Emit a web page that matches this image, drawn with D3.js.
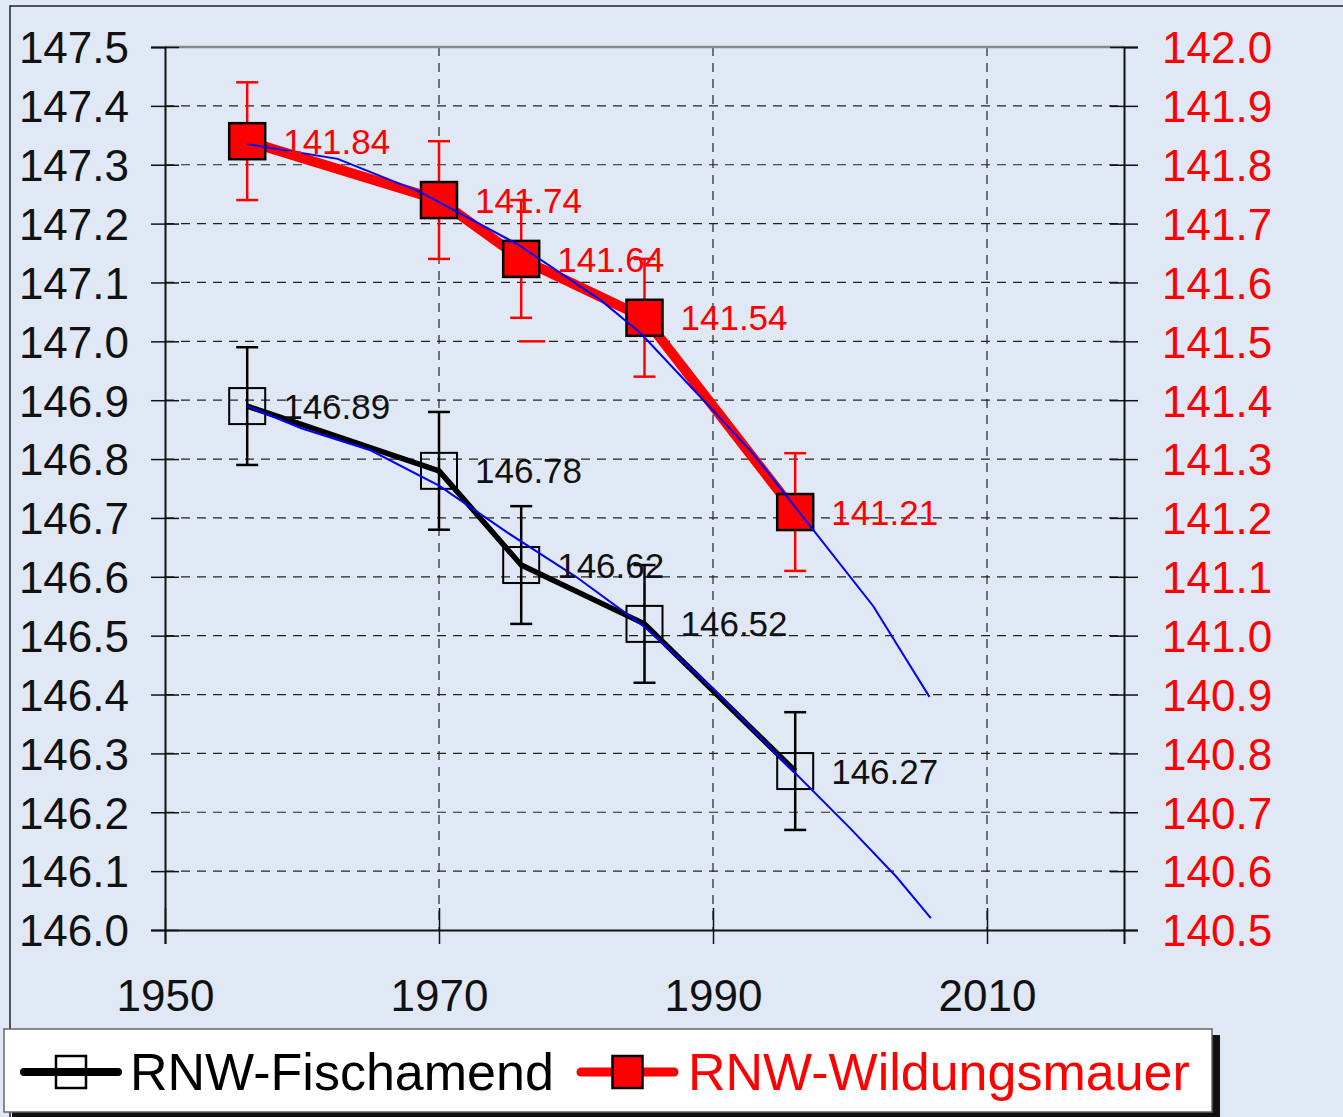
<!DOCTYPE html>
<html><head><meta charset="utf-8">
<script src="https://cdn.jsdelivr.net/npm/d3@7"></script>
<style>html,body{margin:0;padding:0;background:#e0e8f5;}svg{display:block;}</style>
</head><body>
<svg id="c" width="1343" height="1117"></svg>
<script>
const years = [1956, 1970, 1976, 1985, 1996];
const fischamend = [146.89, 146.78, 146.62, 146.52, 146.27];
const wildungsmauer = [141.84, 141.74, 141.64, 141.54, 141.21];
const errFisch = [0.1, 0.1, 0.1, 0.1, 0.1];
const errWild = [0.1, 0.1, 0.1, 0.1, 0.1];
const trendFischYears = [1956, 1960, 1965, 1970, 1975, 1980, 1985, 1990, 1995, 2000, 2003.4, 2005.9];
const trendFischVals  = [146.89, 146.852, 146.815, 146.755, 146.675, 146.60, 146.515, 146.41, 146.29, 146.173, 146.09, 146.02];
const trendWildYears = [1956, 1962.6, 1968.6, 1975.8, 1981.8, 1984.7, 1989.1, 1992.9, 1995.4, 1997.3, 2001.7, 2005.8];
const trendWildVals  = [141.835, 141.81, 141.754, 141.664, 141.57, 141.514, 141.405, 141.31, 141.236, 141.18, 141.05, 140.896];
const strayCapYear = [1976.8];
const strayCapVal = [141.5];
const xTicks = [1950, 1970, 1990, 2010];
const leftTicks = [146.0,146.1,146.2,146.3,146.4,146.5,146.6,146.7,146.8,146.9,147.0,147.1,147.2,147.3,147.4,147.5];
const rightTicks = [140.5,140.6,140.7,140.8,140.9,141.0,141.1,141.2,141.3,141.4,141.5,141.6,141.7,141.8,141.9,142.0];
const seriesNames = ["RNW-Fischamend", "RNW-Wildungsmauer"];

const svg = d3.select("#c");
const FONT = "'Liberation Sans', Arial, sans-serif";
const L = 165, R = 1124, T = 47, B = 930;
const x = d3.scaleLinear().domain([1950, 2020]).range([L, R]);
const yL = d3.scaleLinear().domain([146.0, 147.5]).range([B, T]);
const yR = d3.scaleLinear().domain([140.5, 142.0]).range([B, T]);

// outer frame
svg.append("path").attr("d", `M10,${1117} L10,6 L1343,6`).attr("fill","none").attr("stroke","#222").attr("stroke-width",1.5);

// gridlines
const g = svg.append("g");
g.selectAll(".hg").data(leftTicks.slice(1, -1)).join("line")
  .attr("x1", L).attr("x2", R).attr("y1", d => yL(d)).attr("y2", d => yL(d))
  .attr("stroke", "#222").attr("stroke-width", 1.2).attr("stroke-dasharray", "9,7");
g.selectAll(".vg").data(xTicks.slice(1)).join("line")
  .attr("x1", d => x(d)).attr("x2", d => x(d)).attr("y1", T).attr("y2", B)
  .attr("stroke", "#222").attr("stroke-width", 1.2).attr("stroke-dasharray", "9,7");

// top border
svg.append("line").attr("x1", L).attr("x2", R).attr("y1", T).attr("y2", T).attr("stroke", "#888").attr("stroke-width", 2.5);

// axes
const axL = d3.axisLeft(yL).tickValues(leftTicks).tickSize(14).tickFormat(d3.format(".1f")).tickPadding(22);
const gL = svg.append("g").attr("transform", `translate(${L},0)`).call(axL);
const axR = d3.axisRight(yR).tickValues(rightTicks).tickSize(14).tickFormat(d3.format(".1f")).tickPadding(24);
const gR = svg.append("g").attr("transform", `translate(${R},0)`).call(axR);
const axB = d3.axisBottom(x).tickValues(xTicks).tickSize(14).tickFormat(d3.format("d")).tickPadding(36);
const gB = svg.append("g").attr("transform", `translate(0,${B})`).call(axB);
[gL, gR, gB].forEach(a => {
  a.select(".domain").attr("stroke", "#111").attr("stroke-width", 2);
  a.selectAll(".tick line").attr("stroke", "#111").attr("stroke-width", 1.5);
  a.selectAll("text").attr("font-family", FONT).attr("font-size", 44);
});
gL.selectAll(".tick line").attr("x2", -14).attr("x1", 14);
gR.selectAll(".tick line").attr("x1", -14).attr("x2", 14);
gB.selectAll(".tick line").attr("y1", -22).attr("y2", 14);
gL.selectAll("text").attr("fill", "#111").attr("dy", "0.36em");
gR.selectAll("text").attr("fill", "#ff0000").attr("dy", "0.36em");
gB.selectAll("text").attr("fill", "#111");

const fData = years.map((yr, i) => ({yr, v: fischamend[i], e: errFisch[i]}));
const wData = years.map((yr, i) => ({yr, v: wildungsmauer[i], e: errWild[i]}));

function errorBars(data, ys, color, w) {
  const eg = svg.append("g").attr("stroke", color).attr("stroke-width", w);
  eg.selectAll(".v").data(data).join("line")
    .attr("x1", d => x(d.yr)).attr("x2", d => x(d.yr))
    .attr("y1", d => ys(d.v + d.e)).attr("y2", d => ys(d.v - d.e));
  eg.selectAll(".ctop").data(data).join("line").attr("class", "ctop")
    .attr("x1", d => x(d.yr) - 11).attr("x2", d => x(d.yr) + 11)
    .attr("y1", d => ys(d.v + d.e)).attr("y2", d => ys(d.v + d.e));
  eg.selectAll(".cbot").data(data).join("line").attr("class", "cbot")
    .attr("x1", d => x(d.yr) - 11).attr("x2", d => x(d.yr) + 11)
    .attr("y1", d => ys(d.v - d.e)).attr("y2", d => ys(d.v - d.e));
}
errorBars(wData, yR, "#ff0000", 2.5);
errorBars(fData, yL, "#000", 2.5);
svg.selectAll(".stray").data(strayCapYear.map((yr, i) => ({yr, v: strayCapVal[i]}))).join("line")
  .attr("class", "stray")
  .attr("x1", d => x(d.yr) - 13).attr("x2", d => x(d.yr) + 13)
  .attr("y1", d => yR(d.v)).attr("y2", d => yR(d.v))
  .attr("stroke", "#ff0000").attr("stroke-width", 2.5);

// series lines
svg.append("path").datum(wData).attr("fill", "none").attr("stroke", "#ff0000").attr("stroke-width", 10)
  .attr("stroke-linejoin", "round")
  .attr("d", d3.line().x(d => x(d.yr)).y(d => yR(d.v)));
svg.append("path").datum(fData).attr("fill", "none").attr("stroke", "#000").attr("stroke-width", 5.5)
  .attr("stroke-linejoin", "round")
  .attr("d", d3.line().x(d => x(d.yr)).y(d => yL(d.v)));

// markers
const S = 36;
svg.selectAll(".mw").data(wData).join("rect").attr("class", "mw")
  .attr("x", d => x(d.yr) - S/2).attr("y", d => yR(d.v) - S/2).attr("width", S).attr("height", S)
  .attr("fill", "#ff0000").attr("stroke", "#000").attr("stroke-width", 2.5);
svg.selectAll(".mf").data(fData).join("rect").attr("class", "mf")
  .attr("x", d => x(d.yr) - S/2).attr("y", d => yL(d.v) - S/2).attr("width", S).attr("height", S)
  .attr("fill", "none").attr("stroke", "#000").attr("stroke-width", 2);

// trend lines
const tF = trendFischYears.map((yr, i) => ({yr, v: trendFischVals[i]}));
const tW = trendWildYears.map((yr, i) => ({yr, v: trendWildVals[i]}));
svg.append("path").datum(tF).attr("fill", "none").attr("stroke", "#0000ff").attr("stroke-width", 2)
  .attr("d", d3.line().x(d => x(d.yr)).y(d => yL(d.v)));
svg.append("path").datum(tW).attr("fill", "none").attr("stroke", "#0000ff").attr("stroke-width", 2)
  .attr("d", d3.line().x(d => x(d.yr)).y(d => yR(d.v)));

// labels
svg.selectAll(".lw").data(wData).join("text").attr("class", "lw")
  .attr("x", d => x(d.yr) + 36).attr("y", d => yR(d.v)).attr("dy", "0.36em")
  .attr("font-family", FONT).attr("font-size", 35).attr("fill", "#ff0000")
  .text(d => d3.format(".2f")(d.v));
svg.selectAll(".lf").data(fData).join("text").attr("class", "lf")
  .attr("x", d => x(d.yr) + 36).attr("y", d => yL(d.v)).attr("dy", "0.36em")
  .attr("font-family", FONT).attr("font-size", 35).attr("fill", "#111")
  .text(d => d3.format(".2f")(d.v));

// legend
const lg = svg.append("g");
lg.append("rect").attr("x", 12).attr("y", 1035).attr("width", 1208).attr("height", 82).attr("fill", "#111");
lg.append("rect").attr("x", 4).attr("y", 1029).attr("width", 1208).attr("height", 83).attr("fill", "#fff")
  .attr("stroke", "#666").attr("stroke-width", 1.5);
const legItems = [
  {name: seriesNames[0], color: "#000", text: "#000", fill: "none", x0: 24, x1: 118, lw: 8, tx: 130},
  {name: seriesNames[1], color: "#ff0000", text: "#ff0000", fill: "#ff0000", x0: 581, x1: 674, lw: 9, tx: 688}
];
legItems.forEach(it => {
  const cy = 1072, cx = (it.x0 + it.x1) / 2;
  lg.append("line").attr("x1", it.x0).attr("x2", it.x1).attr("y1", cy).attr("y2", cy)
    .attr("stroke", it.color).attr("stroke-width", it.lw).attr("stroke-linecap", "round");
  lg.append("rect").attr("x", cx - 15).attr("y", cy - 16).attr("width", 30).attr("height", 32)
    .attr("fill", it.fill).attr("stroke", "#000").attr("stroke-width", 2.5);
  lg.append("text").attr("x", it.tx).attr("y", 1090).attr("font-family", FONT).attr("font-size", 52)
    .attr("fill", it.text).text(it.name);
});
</script>
</body></html>
